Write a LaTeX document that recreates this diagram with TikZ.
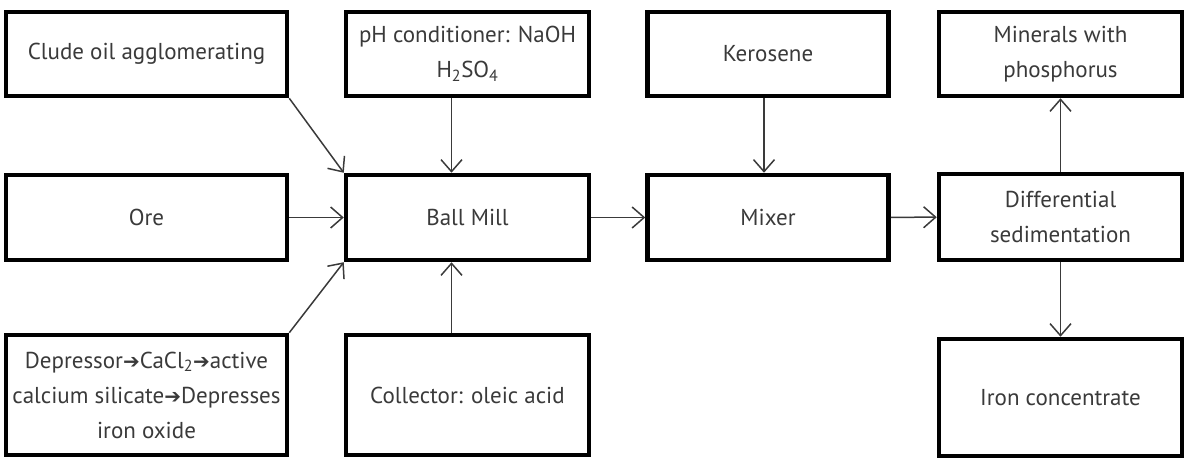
\documentclass[tikz,border=0pt]{standalone}
\usepackage{fontspec}
\setmainfont{PT Sans}
\newfontfamily\arrowfont{DejaVu Sans}
\usepackage{tikz}
\usetikzlibrary{arrows.meta}
\definecolor{inkgray}{HTML}{3A3A3A}
\newcommand{\heavyto}{{\arrowfont\fontsize{20}{20}\selectfont ➔}}

\begin{document}
\begin{tikzpicture}[x=1pt,y=-1pt,>={Straight Barb[length=12pt,width=21pt]},
  font=\fontsize{23}{35}\selectfont,
  box/.style={rectangle,fill=white,draw=black,text=inkgray,line width=4.5pt,inner sep=2pt,align=center},
  wide/.style={box,minimum width=281pt},
  link/.style={->,draw=inkgray,line width=1.5pt}]
\useasboundingbox (0,0) rectangle (1192,473);
\node[wide,minimum height=84pt] (clude) at (146.5,54) {Clude oil agglomerating};
\node[wide,minimum height=85pt] (ore) at (146.5,217.5) {Ore};
\node[wide,minimum height=120pt] (dep) at (146.5,395) {Depressor\heavyto CaCl\textsubscript{2}\heavyto active\\calcium silicate\heavyto Depresses\\iron oxide};
\node[box,minimum width=243pt,minimum height=84pt] (ph) at (467.5,54) {pH conditioner: NaOH\\H\textsubscript{2}SO\textsubscript{4}};
\node[box,minimum width=243pt,minimum height=85pt] (ball) at (467.5,217.5) {Ball Mill};
\node[box,minimum width=243pt,minimum height=120pt] (coll) at (467.5,395) {Collector: oleic acid};
\node[box,minimum width=241pt,minimum height=84pt] (kero) at (768,54) {Kerosene};
\node[box,minimum width=241pt,minimum height=85pt] (mix) at (768,217.5) {Mixer};
\node[box,minimum width=243pt,minimum height=84pt] (phos) at (1060.5,54) {Minerals with\\phosphorus};
\node[box,minimum width=243pt,minimum height=86pt] (sed) at (1060.5,217) {Differential\\sedimentation};
\node[box,minimum width=243pt,minimum height=117pt] (iron) at (1060.5,397.5) {Iron concentrate};
% feeds into the mill
\draw[link] (clude.south east) -- (ball.north west);
\draw[link] (ore) -- (ball);
\draw[link] (dep.north east) -- (ball.south west);
\draw[link] ([xshift=-16pt]ph.south) -- ([xshift=-16pt]ball.north);
\draw[link] ([xshift=-16pt]coll.north) -- ([xshift=-16pt]ball.south);
% main line
\draw[link] (ball) -- (mix);
\draw[link] ([xshift=-4pt]kero.south) -- ([xshift=-4pt]mix.north);
\draw[link] (mix) -- (sed);
\draw[link] (sed) -- (phos);
\draw[link] (sed) -- (iron);
\end{tikzpicture}
\end{document}
